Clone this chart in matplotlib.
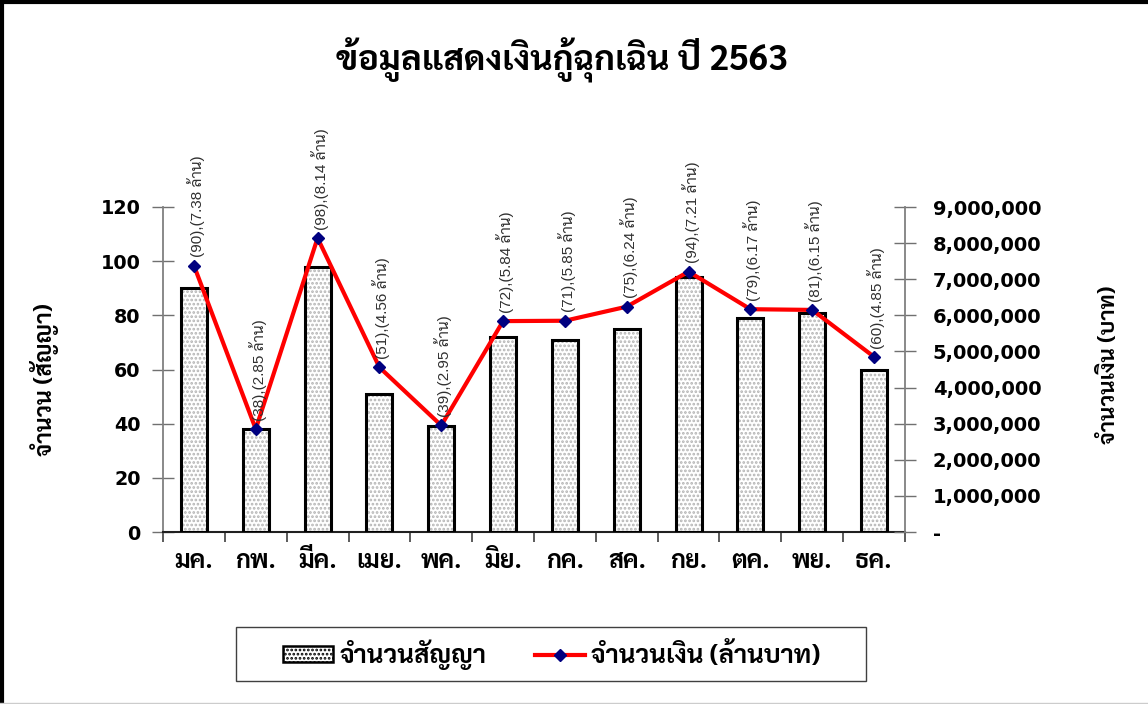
import matplotlib
matplotlib.use("Agg")
import matplotlib.pyplot as plt
from matplotlib.patches import Rectangle
from matplotlib.lines import Line2D
from matplotlib.ticker import FuncFormatter, FixedLocator
import numpy as np

months = ["มค.", "กพ.", "มีค.", "เมย.", "พค.", "มิย.", "กค.", "สค.", "กย.", "ตค.", "พย.", "ธค."]
contracts = [90, 38, 98, 51, 39, 72, 71, 75, 94, 79, 81, 60]
amount_million = [7.38, 2.85, 8.14, 4.56, 2.95, 5.84, 5.85, 6.24, 7.21, 6.17, 6.15, 4.85]
left_ticks = [0, 20, 40, 60, 80, 100, 120]
right_ticks = [0, 1e6, 2e6, 3e6, 4e6, 5e6, 6e6, 7e6, 8e6, 9e6]

title = "ข้อมูลแสดงเงินกู้ฉุกเฉิน ปี 2563"
left_label = "จำนวน (สัญญา)"
right_label = "จำนวนเงิน (บาท)"
bar_legend = "จำนวนสัญญา"
line_legend = "จำนวนเงิน (ล้านบาท)"

THAI = ["Sarabun", "Noto Sans Thai", "Loma", "DejaVu Sans"]
NUM = ["DejaVu Sans"]
LBL = ["Liberation Sans", "Sarabun", "Noto Sans Thai", "DejaVu Sans"]

plt.rcParams["hatch.linewidth"] = 1.3

W, H = 1148, 704
fig = plt.figure(figsize=(W / 100, H / 100), dpi=100)
fig.patch.set_facecolor("white")

ax = fig.add_axes([163 / W, 1 - 532 / H, (905 - 163) / W, (532 - 207) / H])
ax2 = ax.twinx()
ax.set_zorder(1)
ax2.set_zorder(2)
ax.patch.set_visible(False)
ax2.patch.set_visible(False)

x = np.arange(len(months))
# bars: hatch layer then outline layer
ax.bar(x, contracts, width=0.42, color="white", edgecolor="#b4b4b4", hatch="....", linewidth=0, zorder=2)
ax.bar(x, contracts, width=0.42, fill=False, edgecolor="black", linewidth=2.2, zorder=3)

ax.set_xlim(-0.5, len(months) - 0.5)
ax.set_ylim(0, 120)
ax.yaxis.set_major_locator(FixedLocator(left_ticks))
ax.set_xticks(x)
ax.set_xticklabels(months, family=THAI, fontsize=18, fontweight="bold")
ax.tick_params(axis="x", length=0, pad=13)
ax.set_xticks(np.arange(-0.5, len(months) + 0.5, 1), minor=True)
ax.tick_params(axis="x", which="minor", length=7, width=1.2, color="#404040", direction="out")
ax.tick_params(axis="y", length=16, width=1.0, color="#707070", direction="inout", pad=8)
for lab in ax.get_yticklabels():
    lab.set_family(NUM)
    lab.set_fontweight("bold")
    lab.set_fontsize(13.8)

for s in ["top", "right"]:
    ax.spines[s].set_visible(False)
ax.spines["left"].set_color("#808080")
ax.spines["left"].set_linewidth(1.3)
ax.spines["bottom"].set_color("#202020")
ax.spines["bottom"].set_linewidth(1.5)

money = [v * 1e6 for v in amount_million]
ax2.plot(x, money, color="#ff0000", linewidth=3.0, marker="D", markersize=6.5,
         markerfacecolor="#000080", markeredgecolor="#000080", zorder=4)
ax2.set_ylim(0, 9e6)
ax2.yaxis.set_major_locator(FixedLocator(right_ticks))
ax2.yaxis.set_major_formatter(FuncFormatter(lambda v, p: "-" if v == 0 else f"{v:,.0f}"))
ax2.tick_params(axis="y", length=16, width=1.0, color="#707070", direction="inout", pad=12)
for lab in ax2.get_yticklabels():
    lab.set_family(NUM)
    lab.set_fontweight("bold")
    lab.set_fontsize(14)
for s in ["top", "left", "bottom"]:
    ax2.spines[s].set_visible(False)
ax2.spines["right"].set_color("#808080")
ax2.spines["right"].set_linewidth(1.3)

for xi, c, m in zip(x, contracts, amount_million):
    ax2.annotate(f"({c}),({m:.2f} ล้าน)", (xi, m * 1e6), xytext=(1.5, 6), textcoords="offset points",
                 rotation=90, ha="center", va="bottom", fontsize=11, color="#303030",
                 family=LBL, zorder=5)

fig.text(562 / W, 1 - 60 / H, title, ha="center", va="center", fontsize=25,
         fontweight="bold", family=THAI)
fig.text(45 / W, 1 - 380 / H, left_label, ha="center", va="center", rotation=90,
         fontsize=16.5, fontweight="bold", family=THAI)
fig.text(1110 / W, 1 - 365 / H, right_label, ha="center", va="center", rotation=90,
         fontsize=16, fontweight="bold", family=THAI)

# legend box
fig.patches.append(Rectangle((236 / W, 1 - 681 / H), (866 - 236) / W, (681 - 627) / H,
                             transform=fig.transFigure, facecolor="white",
                             edgecolor="#404040", linewidth=1.0, zorder=1))
h_bar = Rectangle((0, 0), 1, 1, facecolor="white", edgecolor="black", hatch="....", linewidth=1.8)
h_line = Line2D([], [], color="#ff0000", linewidth=3.0, marker="D", markersize=6,
                markerfacecolor="#000080", markeredgecolor="#000080")
leg = fig.legend([h_bar, h_line], [bar_legend, line_legend], loc="center",
                 bbox_to_anchor=(552 / W, 1 - 655 / H), ncol=2, frameon=False,
                 prop={"family": THAI, "weight": "bold", "size": 18.5},
                 handlelength=1.95, handleheight=0.55, handletextpad=0.23, columnspacing=1.9)
leg.set_zorder(3)

# outer frame (top and left)
fig.add_artist(Line2D([1.5 / W, 1.5 / W], [0, 1], transform=fig.transFigure, color="black", linewidth=3))
fig.add_artist(Line2D([0, 1], [1 - 2 / H, 1 - 2 / H], transform=fig.transFigure, color="black", linewidth=3))
fig.add_artist(Line2D([0, 1], [1 / H, 1 / H], transform=fig.transFigure, color="#cccccc", linewidth=1))

fig.savefig("out.png", dpi=100, facecolor="white")
